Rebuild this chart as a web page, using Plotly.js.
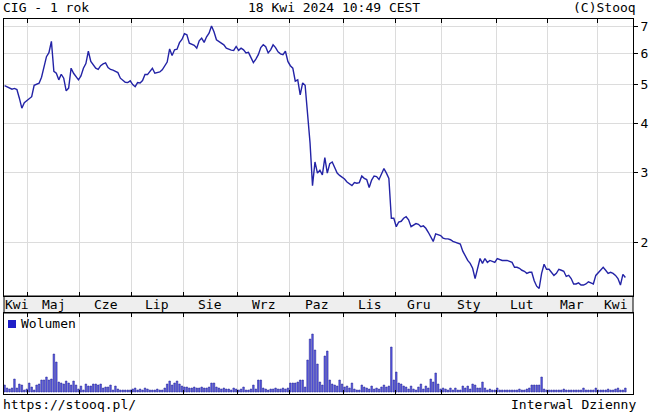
<!DOCTYPE html>
<html><head><meta charset="utf-8">
<script src="https://cdn.plot.ly/plotly-3.0.1.min.js"></script>
<style>html,body{margin:0;padding:0;background:#fff}#chart{width:654px;height:412px}</style>
</head><body><div id="chart"></div>
<script>
const monthLabels = ['Kwi','Maj','Cze','Lip','Sie','Wrz','Paz','Lis','Gru','Sty','Lut','Mar','Kwi'];
const monthStarts = [0,10,31,52,73,95,116,138,159,178,200,221,241];
const priceTicks = [2,3,4,5,6,7];
const price = [
4.97,4.94,4.92,4.87,4.89,4.86,4.62,4.36,4.50,4.56,
4.60,4.66,4.98,5.02,5.04,5.22,5.56,5.88,6.02,6.43,
5.40,5.34,5.14,5.31,5.19,4.82,4.90,5.50,5.34,5.22,
5.14,5.26,5.50,5.65,6.07,5.72,5.62,5.50,5.46,5.58,
5.64,5.67,5.52,5.46,5.44,5.40,5.36,5.19,5.14,5.07,
5.06,5.11,5.00,4.94,5.06,5.05,5.12,5.30,5.30,5.42,
5.50,5.34,5.36,5.38,5.45,5.58,5.70,6.15,5.92,6.12,
6.14,6.38,6.50,6.72,6.68,6.36,6.32,6.28,6.18,6.45,
6.55,6.39,6.60,6.74,7.03,6.80,6.49,6.43,6.36,6.30,
6.18,6.13,6.11,6.10,6.24,6.10,6.18,6.12,6.01,6.03,
5.86,5.68,5.80,5.95,6.20,6.30,6.23,6.01,6.12,6.30,
6.20,6.05,5.98,5.95,6.07,5.72,5.58,5.50,5.10,5.14,
4.71,5.05,4.98,4.15,3.56,2.78,3.19,2.99,3.04,2.96,
3.27,2.99,3.16,3.19,3.07,2.99,2.95,2.92,2.89,2.84,
2.81,2.78,2.83,2.82,2.83,2.94,2.90,2.88,2.75,2.87,
2.94,2.93,2.88,2.96,3.07,2.99,2.90,2.30,2.30,2.19,
2.25,2.26,2.30,2.32,2.28,2.19,2.21,2.23,2.22,2.19,
2.20,2.17,2.12,2.07,2.01,2.10,2.09,2.08,2.05,2.04,
2.04,2.03,2.01,2.00,1.99,1.98,1.90,1.85,1.80,1.77,
1.72,1.62,1.71,1.82,1.77,1.82,1.78,1.80,1.79,1.78,
1.82,1.81,1.80,1.80,1.80,1.79,1.78,1.73,1.73,1.72,
1.70,1.69,1.67,1.68,1.68,1.60,1.55,1.53,1.67,1.76,
1.71,1.71,1.68,1.65,1.67,1.71,1.70,1.69,1.64,1.65,
1.62,1.57,1.57,1.58,1.56,1.56,1.57,1.59,1.58,1.57,
1.65,1.68,1.71,1.73,1.70,1.67,1.68,1.67,1.65,1.62,
1.56,1.66,1.63];
const volume = [
7,4,3,4,13,4,8,7,2,3,
9,5,2,7,8,12,12,15,12,13,
38,30,10,9,8,11,9,7,11,7,
3,6,2,8,6,6,8,8,7,8,
4,5,5,7,2,6,3,2,2,2,
2,2,3,4,2,3,2,4,3,2,
2,2,3,2,2,4,8,11,7,9,
11,8,6,5,5,4,4,5,4,4,
5,4,4,5,9,9,5,4,3,4,
3,3,2,4,3,2,3,5,2,2,
3,7,3,12,12,4,3,2,3,3,
4,3,3,4,3,4,9,9,9,10,
12,12,5,32,53,58,42,28,10,7,
36,41,12,8,7,6,12,8,5,6,
4,9,3,2,2,7,5,4,3,6,
3,4,3,5,7,5,6,45,12,20,
9,8,6,5,3,6,3,2,5,8,
3,6,4,13,10,19,8,3,4,3,
2,4,2,4,2,2,6,4,6,3,
8,7,4,4,10,4,2,3,2,2,
4,2,2,2,2,2,2,2,2,3,
2,2,3,4,7,7,7,7,15,3,
2,2,2,2,2,2,2,3,2,2,
2,2,2,2,2,4,2,2,2,2,
4,2,2,2,2,3,2,2,3,4,
2,2,4];

const days = price.map((_, i) => i);
const xRange = [-0.24, 255.1];
const bounds = monthStarts.slice(1).map(s => s - 0.5);
const edges = [xRange[0]].concat(bounds, [xRange[1]]);
const FONT = 'DejaVu Sans Mono';

const traces = [
  {x: days, y: price, type: 'scatter', mode: 'lines', xaxis: 'x', yaxis: 'y',
   line: {color: '#2323a6', width: 1.4}, hoverinfo: 'skip', showlegend: false},
  {x: days, y: volume, type: 'bar', xaxis: 'x2', yaxis: 'y2',
   marker: {color: '#5a5ae4', line: {color: '#1e1e8c', width: 0.5}}, hoverinfo: 'skip', showlegend: false}
];

const bandLo = 0.216, bandHi = 0.2613;
const annotations = monthLabels.map((m, k) => ({
  x: (edges[k] + edges[k + 1]) / 2, xref: 'x', y: (bandLo + bandHi) / 2, yref: 'paper',
  text: m, showarrow: false, xanchor: 'center', yanchor: 'middle',
  font: {family: FONT, size: 13, color: '#000'}
}));
annotations.push(
  {x: -0.004, y: 1.03, xref: 'paper', yref: 'paper', text: 'CIG - 1 rok', showarrow: false, xanchor: 'left', yanchor: 'middle', font: {family: FONT, size: 13, color: '#000'}},
  {x: 0.5246, y: 1.03, xref: 'paper', yref: 'paper', text: '18 Kwi 2024 10:49 CEST', showarrow: false, xanchor: 'center', yanchor: 'middle', font: {family: FONT, size: 13, color: '#000'}},
  {x: 1.008, y: 1.03, xref: 'paper', yref: 'paper', text: '(C)Stooq', showarrow: false, xanchor: 'right', yanchor: 'middle', font: {family: FONT, size: 13, color: '#000'}},
  {x: -0.004, y: -0.027, xref: 'paper', yref: 'paper', text: 'https://stooq.pl/', showarrow: false, xanchor: 'left', yanchor: 'middle', font: {family: FONT, size: 13, color: '#000'}},
  {x: 1.008, y: -0.027, xref: 'paper', yref: 'paper', text: 'Interwal Dzienny', showarrow: false, xanchor: 'right', yanchor: 'middle', font: {family: FONT, size: 13, color: '#000'}},
  {x: 0.0238, y: 0.1867, xref: 'paper', yref: 'paper', text: 'Wolumen', showarrow: false, xanchor: 'left', yanchor: 'middle', font: {family: FONT, size: 13, color: '#000'}}
);

const xCommon = {
  range: xRange, tickmode: 'array', tickvals: bounds, showticklabels: false,
  ticks: 'inside', ticklen: 4, tickcolor: '#000', tickwidth: 1,
  showgrid: true, gridcolor: '#dcdcdc', gridwidth: 1,
  showline: true, linecolor: '#000', linewidth: 1, mirror: 'ticks', zeroline: false, fixedrange: true
};

const layout = {
  width: 654, height: 412,
  margin: {l: 4, r: 21, t: 19, b: 18, pad: 0},
  paper_bgcolor: '#fff', plot_bgcolor: '#fff',
  showlegend: false, bargap: 0.35,
  xaxis: Object.assign({}, xCommon, {anchor: 'y', domain: [0, 1]}),
  xaxis2: Object.assign({}, xCommon, {anchor: 'y2', domain: [0, 1]}),
  yaxis: {
    domain: [bandHi, 1], type: 'log', range: [0.1655, 0.8645], side: 'right',
    tickmode: 'array', tickvals: priceTicks, ticktext: priceTicks.map(String),
    ticks: 'outside', ticklen: 4, tickcolor: '#000',
    tickfont: {family: FONT, size: 13, color: '#000'},
    showgrid: true, gridcolor: '#dcdcdc', showline: true, linecolor: '#000', mirror: true, zeroline: false, fixedrange: true
  },
  yaxis2: {
    domain: [0, bandLo], range: [-2, 79], showticklabels: false, ticks: '',
    showgrid: false, showline: true, linecolor: '#000', mirror: true, zeroline: false, fixedrange: true
  },
  shapes: [
    {type: 'rect', xref: 'paper', yref: 'paper', x0: 0, x1: 1, y0: bandLo, y1: bandHi,
     fillcolor: '#eeeeee', line: {color: '#000', width: 1}, layer: 'below'},
    {type: 'rect', xref: 'paper', yref: 'paper', x0: 0.0064, x1: 0.0191, y0: 0.176, y1: 0.1973,
     fillcolor: '#1f1fc8', line: {width: 0}}
  ],
  annotations: annotations
};

Plotly.newPlot('chart', traces, layout, {staticPlot: true, displayModeBar: false});
</script>
</body></html>
